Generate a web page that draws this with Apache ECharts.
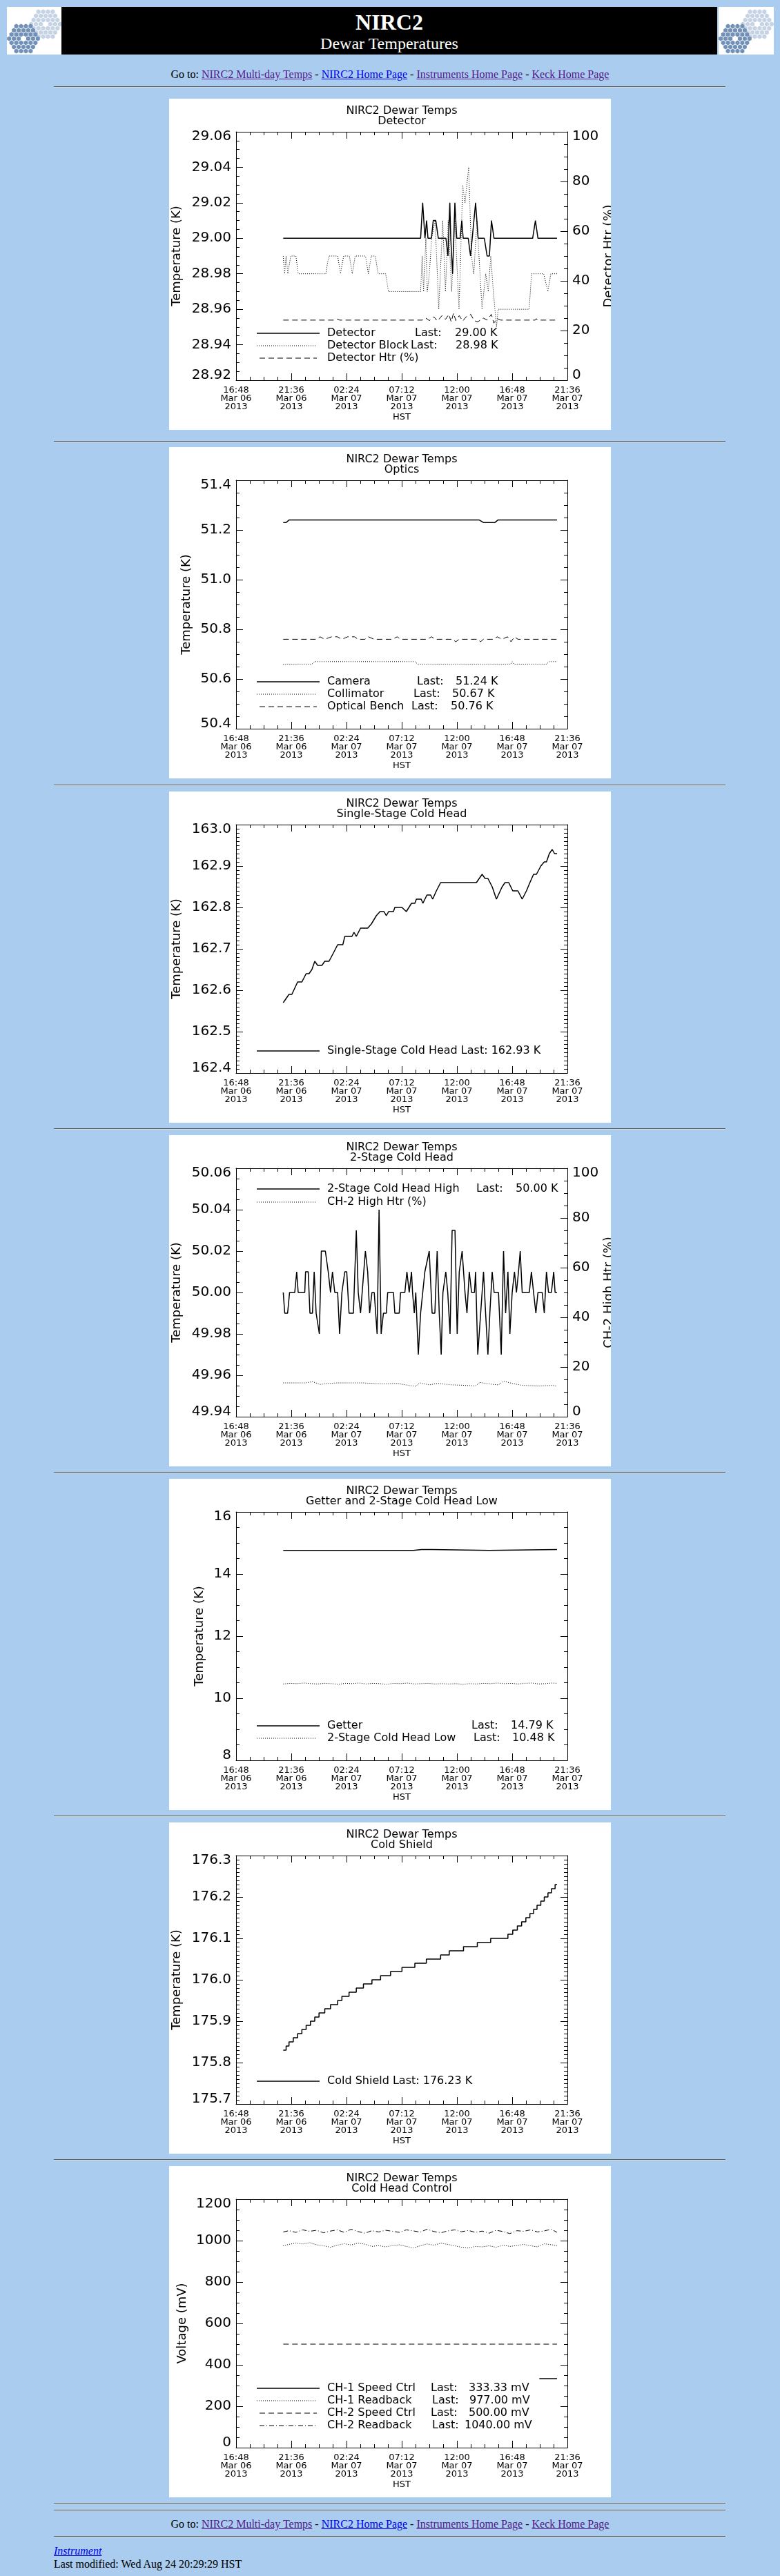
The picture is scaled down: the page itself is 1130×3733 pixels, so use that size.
<!DOCTYPE html>
<html>
<head>
<meta charset="utf-8">
<title>NIRC2 Dewar Temperatures</title>
<script src="https://cdn.jsdelivr.net/npm/echarts@6/dist/echarts.min.js"></script>
<style>
html,body{margin:0;padding:0}
body{background:#AACCEE;width:1130px;height:3733px;position:relative;overflow:hidden;font-family:"Liberation Serif","Times New Roman",serif;font-size:16px;color:#000}
.logo{position:absolute;top:10px;height:69px;background:#fff;overflow:hidden}
.banner{position:absolute;left:89px;top:10px;width:950px;height:69px;background:#000;color:#fff;text-align:center}
.t1{position:absolute;left:0;right:0;top:4px;font-weight:bold;font-size:32px;line-height:36px}
.t2{position:absolute;left:0;right:0;top:39px;font-size:24px;line-height:28px}
.nav{position:absolute;left:0;width:1130px;text-align:center;line-height:18px;white-space:nowrap}
.vis{color:#551A8B;text-decoration:underline}
.lnk{color:#0000EE;text-decoration:underline}
.rule{position:absolute;left:78px;width:973px;height:0;border-top:1px solid #5a5a5a;border-bottom:1px solid #d9d9d9}
.panel{position:absolute;left:245px;width:640px;height:480px;background:#fff}
.foot{position:absolute;left:78px;line-height:18px;white-space:nowrap}
</style>
</head>
<body>
<div class="logo" style="left:10px;width:79px"><svg id="logoL" width="79" height="69"></svg></div>
<div class="banner"><div class="t1">NIRC2</div><div class="t2">Dewar Temperatures</div></div>
<div class="logo" style="left:1041px;width:80px"><svg id="logoR" width="80" height="69"></svg></div>

<div class="nav" style="top:99px">Go to: <span class="vis">NIRC2 Multi-day Temps</span> - <span class="lnk">NIRC2 Home Page</span> - <span class="vis">Instruments Home Page</span> - <span class="vis">Keck Home Page</span></div>
<div class="rule" style="top:125px"></div>

<div class="panel" id="c1" style="top:143px"></div>
<div class="rule" style="top:639px"></div>
<div class="panel" id="c2" style="top:648px"></div>
<div class="rule" style="top:1137px"></div>
<div class="panel" id="c3" style="top:1147px"></div>
<div class="rule" style="top:1635px"></div>
<div class="panel" id="c4" style="top:1645px"></div>
<div class="rule" style="top:2133px"></div>
<div class="panel" id="c5" style="top:2143px"></div>
<div class="rule" style="top:2631px"></div>
<div class="panel" id="c6" style="top:2641px"></div>
<div class="rule" style="top:3129px"></div>
<div class="panel" id="c7" style="top:3139px"></div>
<div class="rule" style="top:3627px"></div>
<div class="rule" style="top:3637px"></div>
<div class="nav" style="top:3649px">Go to: <span class="vis">NIRC2 Multi-day Temps</span> - <span class="lnk">NIRC2 Home Page</span> - <span class="vis">Instruments Home Page</span> - <span class="vis">Keck Home Page</span></div>
<div class="rule" style="top:3675px"></div>
<div class="foot" style="top:3688px"><i><span class="lnk">Instrument</span></i></div>
<div class="foot" style="top:3707px">Last modified: Wed Aug 24 20:29:29 HST</div>

<script>
// ---------- Data (time in hours since 16:48 HST, Mar 06 2013) ----------
const xTickLabels = ['16:48\nMar 06\n2013','21:36\nMar 06\n2013','02:24\nMar 07\n2013','07:12\nMar 07\n2013','12:00\nMar 07\n2013','16:48\nMar 07\n2013','21:36\nMar 07\n2013'];

const detectorTemp = [[4.10,29.00],[16.04,29.00],[16.22,29.02],[16.42,29.00],[16.56,29.01],[16.68,29.00],[16.98,29.00],[17.14,29.01],[17.36,29.01],[17.58,29.00],[18.24,29.00],[18.42,28.99],[18.58,29.02],[18.66,29.00],[18.82,28.98],[19.02,29.02],[19.18,29.00],[19.48,29.00],[19.62,29.01],[19.74,29.00],[20.18,29.00],[20.38,28.99],[20.82,29.02],[21.04,29.00],[21.58,29.00],[21.82,28.99],[22.02,28.99],[22.20,29.01],[22.42,29.00],[25.78,29.00],[26.02,29.01],[26.24,29.00],[27.90,29.00]];
const detectorBlockTemp = [[4.10,28.99],[4.22,28.98],[4.35,28.99],[4.50,28.98],[4.75,28.99],[5.20,28.99],[5.40,28.98],[7.80,28.98],[8.05,28.99],[8.83,28.99],[9.08,28.98],[9.35,28.99],[9.85,28.99],[10.10,28.98],[10.35,28.99],[11.25,28.99],[11.50,28.98],[11.75,28.99],[12.10,28.99],[12.35,28.98],[13.00,28.98],[13.25,28.97],[16.04,28.97],[16.18,28.99],[16.30,28.97],[16.50,29.00],[16.62,28.97],[16.80,28.98],[17.00,29.00],[17.30,29.01],[17.62,28.96],[17.96,29.01],[18.20,28.97],[18.44,29.01],[18.74,28.97],[19.02,29.01],[19.38,28.96],[19.70,29.03],[19.90,29.02],[20.22,29.04],[20.46,28.99],[20.66,28.98],[20.94,29.01],[21.38,28.96],[21.70,28.98],[21.92,28.97],[22.14,28.99],[22.36,28.97],[22.64,28.95],[22.78,28.96],[25.48,28.96],[25.68,28.98],[26.74,28.98],[27.10,28.97],[27.36,28.98],[27.90,28.98]];
const detectorHtr = [[4.10,24.2],[8.60,24.2],[8.80,24.6],[9.00,24.2],[16.20,24.2],[16.50,25.0],[16.80,24.0],[17.20,25.5],[17.50,23.8],[17.90,26.0],[18.20,24.5],[18.50,26.5],[18.70,23.5],[18.90,27.0],[19.10,24.0],[19.40,26.0],[19.70,23.8],[20.00,25.5],[20.40,26.5],[20.70,24.0],[21.00,23.5],[21.50,25.0],[21.80,24.2],[22.20,26.5],[22.40,23.0],[22.70,24.8],[23.00,24.2],[26.00,24.2],[26.10,24.8],[26.20,24.2],[27.90,24.2]];

const cameraTemp = [[4.10,51.23],[4.35,51.23],[4.60,51.24],[21.14,51.24],[21.50,51.23],[22.50,51.23],[22.76,51.24],[27.90,51.24]];
const collimatorTemp = [[4.10,50.66],[6.59,50.66],[6.84,50.67],[15.54,50.67],[15.79,50.66],[23.87,50.66],[24.00,50.67],[24.15,50.66],[26.98,50.66],[27.23,50.67],[27.90,50.67]];
const opticalBenchTemp = [[4.10,50.76],[7.00,50.76],[7.30,50.77],[7.70,50.76],[8.30,50.77],[8.80,50.77],[9.20,50.76],[9.70,50.77],[10.30,50.77],[10.60,50.76],[11.20,50.76],[11.50,50.77],[12.00,50.76],[13.60,50.76],[14.00,50.77],[14.30,50.76],[16.60,50.76],[17.00,50.77],[17.30,50.76],[18.80,50.76],[19.10,50.75],[19.40,50.76],[21.00,50.76],[21.25,50.75],[21.50,50.76],[22.40,50.76],[22.70,50.77],[23.10,50.76],[23.60,50.77],[23.90,50.75],[24.20,50.77],[24.50,50.76],[27.90,50.76]];

const singleStageTemp = [[4.10,162.57],[4.60,162.59],[4.85,162.59],[5.35,162.62],[5.72,162.62],[6.09,162.64],[6.34,162.64],[6.59,162.65],[6.84,162.67],[7.09,162.66],[7.46,162.66],[7.71,162.67],[8.08,162.67],[8.46,162.69],[8.83,162.71],[9.28,162.71],[9.45,162.73],[10.07,162.73],[10.25,162.74],[10.45,162.73],[10.82,162.75],[11.44,162.75],[11.76,162.76],[12.19,162.78],[12.51,162.79],[12.86,162.79],[13.06,162.78],[13.26,162.79],[13.68,162.79],[13.80,162.80],[14.42,162.80],[14.80,162.79],[15.25,162.81],[15.54,162.81],[15.67,162.82],[16.09,162.82],[16.24,162.81],[16.59,162.83],[16.91,162.83],[17.09,162.82],[17.41,162.84],[17.78,162.86],[20.89,162.86],[21.14,162.87],[21.39,162.88],[21.64,162.87],[21.89,162.87],[22.26,162.85],[22.63,162.82],[23.13,162.85],[23.38,162.86],[23.70,162.86],[24.05,162.84],[24.50,162.84],[24.87,162.82],[25.24,162.84],[25.54,162.86],[25.86,162.88],[26.11,162.88],[26.49,162.90],[26.79,162.91],[26.98,162.91],[27.23,162.93],[27.48,162.94],[27.68,162.93],[27.90,162.93]];

const twoStageHighTemp = [[4.10,50.00],[4.23,49.99],[4.48,49.99],[4.65,50.00],[5.10,50.00],[5.27,50.01],[5.40,50.00],[5.97,50.00],[6.04,50.01],[6.27,50.01],[6.42,49.99],[6.64,49.99],[6.79,50.01],[6.96,49.99],[7.24,49.98],[7.41,50.02],[7.76,50.02],[8.01,50.01],[8.21,50.00],[8.38,50.01],[8.58,50.00],[8.83,50.00],[9.00,49.98],[9.20,50.00],[9.45,50.01],[9.62,50.01],[9.82,49.99],[10.20,49.99],[10.45,50.03],[10.62,50.00],[10.82,49.99],[11.24,50.02],[11.44,50.01],[11.61,49.99],[11.81,50.00],[12.01,50.00],[12.26,49.98],[12.43,50.04],[12.61,49.98],[12.81,49.99],[13.06,49.99],[13.18,50.00],[13.68,50.00],[13.80,49.99],[14.18,49.99],[14.30,50.00],[14.67,50.00],[14.85,50.01],[15.05,50.00],[15.25,50.01],[15.34,50.00],[15.49,49.99],[15.62,50.00],[15.84,49.97],[16.04,49.99],[16.41,50.01],[16.79,50.02],[17.04,49.99],[17.28,49.99],[17.48,50.02],[17.66,49.99],[17.83,49.97],[17.98,50.00],[18.23,50.01],[18.40,50.00],[18.60,49.98],[18.78,50.03],[19.03,50.03],[19.22,49.98],[19.40,50.01],[19.65,50.02],[19.90,50.00],[20.07,49.99],[20.27,50.01],[20.47,50.00],[20.72,50.00],[20.82,50.01],[21.01,49.97],[21.26,49.99],[21.51,50.01],[21.69,49.99],[21.89,49.97],[22.06,49.99],[22.26,50.01],[22.43,50.00],[22.81,50.00],[23.05,49.97],[23.25,50.02],[23.43,49.99],[23.63,50.01],[23.80,49.98],[24.00,50.00],[24.20,50.01],[24.37,50.00],[24.55,50.01],[24.70,50.02],[24.87,50.00],[25.49,50.00],[25.67,50.01],[25.86,50.00],[26.06,49.99],[26.24,50.00],[26.61,50.00],[26.79,49.99],[26.98,50.01],[27.16,50.00],[27.41,50.00],[27.61,50.01],[27.73,50.00],[27.90,50.00]];
const ch2HighHtr = [[4.10,13.6],[6.00,13.6],[6.64,14.1],[7.30,13.0],[7.80,13.3],[8.80,13.6],[11.00,13.6],[12.80,13.2],[14.00,13.4],[15.30,12.4],[15.60,12.3],[16.00,13.6],[16.80,12.8],[17.50,13.4],[18.80,12.8],[20.00,12.6],[20.80,12.4],[21.20,13.8],[22.30,13.0],[22.80,12.8],[23.25,14.3],[24.00,13.4],[24.90,12.6],[26.30,12.4],[27.50,12.6],[27.80,12.4]];

const getterTemp = [[4.10,14.76],[15.42,14.76],[15.54,14.79],[16.12,14.79],[16.22,14.77],[16.30,14.79],[17.04,14.79],[17.16,14.76],[22.01,14.76],[22.10,14.79],[27.90,14.79]];
const twoStageLowTemp = [[4.1,10.46],[4.7,10.48],[5.3,10.47],[5.9,10.49],[6.5,10.47],[7.1,10.46],[7.7,10.48],[8.3,10.47],[8.9,10.45],[9.5,10.48],[10.1,10.47],[10.7,10.49],[11.3,10.46],[11.9,10.48],[12.5,10.47],[13.1,10.45],[13.7,10.48],[14.3,10.47],[14.9,10.49],[15.5,10.46],[16.1,10.47],[16.7,10.48],[17.3,10.46],[17.9,10.47],[18.5,10.46],[19.1,10.47],[19.7,10.45],[20.3,10.47],[20.9,10.46],[21.5,10.48],[22.1,10.47],[22.7,10.49],[23.3,10.47],[23.9,10.48],[24.5,10.46],[25.1,10.48],[25.7,10.49],[26.3,10.46],[26.9,10.47],[27.5,10.49],[27.9,10.48]];

const coldShieldTemp = [[4.10,175.83],[4.35,175.84],[4.60,175.85],[4.97,175.86],[5.35,175.87],[5.72,175.88],[6.09,175.89],[6.47,175.90],[6.84,175.91],[7.21,175.92],[7.71,175.93],[8.21,175.94],[8.83,175.95],[9.20,175.96],[9.82,175.97],[10.45,175.98],[11.07,175.99],[11.81,176.00],[12.56,176.01],[13.43,176.02],[14.42,176.03],[15.54,176.04],[16.54,176.05],[17.78,176.06],[18.53,176.07],[19.77,176.08],[20.97,176.09],[22.13,176.10],[23.63,176.11],[24.05,176.12],[24.45,176.13],[24.82,176.14],[25.19,176.15],[25.54,176.16],[25.86,176.17],[26.16,176.18],[26.49,176.19],[26.79,176.20],[27.11,176.21],[27.41,176.22],[27.73,176.23],[27.90,176.23]];

const ch1SpeedCtrl = [[26.36,333.33],[27.90,333.33]];
const ch1Readback = [[4.1,975],[4.6,982],[5.2,988],[5.8,984],[6.4,990],[7.0,980],[7.6,975],[8.2,968],[8.8,978],[9.4,985],[10.0,979],[10.6,988],[11.2,983],[11.8,972],[12.4,976],[13.0,970],[13.6,976],[14.2,980],[14.8,972],[15.4,965],[16.0,975],[16.6,984],[17.2,978],[17.8,988],[18.4,982],[19.0,975],[19.6,968],[20.2,964],[20.8,972],[21.4,970],[22.0,975],[22.6,968],[23.2,978],[23.8,972],[24.4,976],[25.0,982],[25.6,975],[26.2,970],[26.8,985],[27.4,980],[27.9,977]];
const ch2SpeedCtrl = [[4.10,500],[27.90,500]];
const ch2Readback = [[4.1,1042],[4.6,1048],[5.2,1040],[5.8,1052],[6.4,1045],[7.0,1050],[7.6,1038],[8.2,1046],[8.8,1052],[9.4,1040],[10.0,1055],[10.6,1044],[11.2,1036],[11.8,1048],[12.4,1042],[13.0,1050],[13.6,1045],[14.2,1040],[14.8,1052],[15.4,1047],[16.0,1041],[16.6,1055],[17.2,1044],[17.8,1038],[18.4,1047],[19.0,1052],[19.6,1043],[20.2,1049],[20.8,1040],[21.4,1046],[22.0,1036],[22.6,1050],[23.2,1044],[23.8,1034],[24.4,1048],[25.0,1045],[25.6,1052],[26.2,1042],[26.8,1047],[27.4,1055],[27.9,1040]];

// ---------- Logos (decorative hex mosaics) ----------
function drawLogo(id){
  const svg=document.getElementById(id); const ns='http://www.w3.org/2000/svg';
  const s=4, w=Math.sqrt(3)*s;
  function mosaic(cx,cy,color){
    for(let q=-3;q<=3;q++)for(let r=-3;r<=3;r++){
      const k=-q-r; if(Math.max(Math.abs(q),Math.abs(r),Math.abs(k))>3) continue;
      if(q===0&&r===0) continue;
      const x=cx+w*(q+r/2), y=cy+1.5*s*r; let pts=[];
      for(let i=0;i<6;i++){const a=Math.PI/180*(60*i-30); pts.push((x+(s-0.5)*Math.cos(a)).toFixed(2)+','+(y+(s-0.5)*Math.sin(a)).toFixed(2));}
      const p=document.createElementNS(ns,'polygon'); p.setAttribute('points',pts.join(' ')); p.setAttribute('fill',color); svg.appendChild(p);
    }
  }
  mosaic(56,25,'#c5d3e4');
  mosaic(24,46,'#7291b8');
}
drawLogo('logoL'); drawLogo('logoR');

// ---------- Chart builder ----------
const F='"DejaVu Sans", Verdana, sans-serif';
const ST={solid:{width:1.5,type:'solid'},dotted:{width:1,type:[1,2]},dashed:{width:1,type:[8,5]},dashdot:{width:1,type:[7,3,1,3]}};
function near(a,b){return Math.abs(a-b)<1e-6*Math.max(1,Math.abs(b));}
const common={axisLine:{show:true,onZero:false,lineStyle:{color:'#000',width:1}},
  axisTick:{show:true,inside:true,length:10,lineStyle:{color:'#000',width:1}},
  splitLine:{show:false},minorSplitLine:{show:false}};
function xAxis(pos){
  return Object.assign({type:'value',position:pos,min:0,max:28.8,interval:4.8,
    minorTick:{show:true,splitNumber:4,length:5,lineStyle:{color:'#000',width:1}},
    axisLabel:pos==='bottom'?{show:true,showMinLabel:true,showMaxLabel:true,margin:9,color:'#000',fontFamily:F,fontSize:13,lineHeight:11.7,
      formatter:function(v){return xTickLabels[Math.round(v/4.8)]||'';}}:{show:false},
    name:pos==='bottom'?'HST':'',nameLocation:'middle',nameGap:47,nameMoveOverlap:false,
    nameTextStyle:{color:'#000',fontFamily:F,fontSize:13,lineHeight:13}},common);
}
function yAxis(a,pos,labels){
  return Object.assign({type:'value',position:pos,min:a.min,max:a.max,interval:a.interval,
    minorTick:{show:true,splitNumber:a.minor,length:5,lineStyle:{color:'#000',width:1}},
    axisLabel:{show:labels,showMinLabel:true,showMaxLabel:true,margin:7,color:'#000',fontFamily:F,fontSize:20,lineHeight:14,
      formatter:function(v){const s=v.toFixed(a.dec); if(near(v,a.max))return '\n'+s; if(near(v,a.min))return s+'\n'; return s;}},
    name:labels?a.name:'',nameLocation:'middle',nameGap:a.gap,nameRotate:90,nameMoveOverlap:false,
    nameTextStyle:{color:'#000',fontFamily:F,fontSize:18,lineHeight:20}},common);
}
function build(id,cfg){
  const chart=echarts.init(document.getElementById(id),null,{renderer:'canvas',width:640,height:480});
  const els=[
    {type:'text',silent:true,style:{text:'NIRC2 Dewar Temps',x:337,y:18,font:'16px '+F,fill:'#000',textAlign:'center',textVerticalAlign:'middle'}},
    {type:'text',silent:true,style:{text:cfg.sub,x:337,y:32.5,font:'16px '+F,fill:'#000',textAlign:'center',textVerticalAlign:'middle'}}
  ];
  cfg.legend.forEach(function(it){
    const st=ST[it.style];
    const x1=it.style==='dashed'||it.style==='dashdot'?131:127, x2=it.style==='solid'?218:214;
    els.push({type:'line',silent:true,shape:{x1:x1,y1:it.y,x2:x2,y2:it.y},style:{stroke:'#000',lineWidth:st.width,lineDash:it.style==='solid'?null:st.type}});
    it.texts.forEach(function(t){
      els.push({type:'text',silent:true,style:{text:t[1],x:t[0],y:it.y,font:'16px '+F,fill:'#000',textAlign:'left',textVerticalAlign:'middle'}});
    });
  });
  const series=cfg.series.map(function(s){
    const st=ST[s.style];
    return {type:'line',data:s.data,xAxisIndex:0,yAxisIndex:s.axis||0,showSymbol:false,symbol:'none',silent:true,animation:false,
      step:s.step||false,lineStyle:{color:'#000',width:st.width,type:st.type},clip:true};
  });
  chart.setOption({
    animation:false,backgroundColor:'#fff',
    grid:{left:97,right:63,top:48,bottom:72,containLabel:false,outerBoundsMode:'none'},
    xAxis:[xAxis('bottom'),xAxis('top')],
    yAxis:[yAxis(cfg.y,'left',true), cfg.y2?yAxis(cfg.y2,'right',true):yAxis(cfg.y,'right',false)],
    graphic:{elements:els},
    series:series
  });
}

build('c1',{sub:'Detector',
  y:{min:28.92,max:29.06,interval:0.02,minor:4,dec:2,name:'Temperature (K)',gap:76},
  y2:{min:0,max:100,interval:20,minor:4,dec:0,name:'Detector Htr (%)',gap:50},
  series:[{data:detectorTemp,style:'solid'},{data:detectorBlockTemp,style:'dotted'},{data:detectorHtr,style:'dashed',axis:1}],
  legend:[{y:340,style:'solid',texts:[[229,'Detector'],[356,'Last:'],[414,'29.00 K']]},
          {y:358,style:'dotted',texts:[[229,'Detector Block'],[350,'Last:'],[415,'28.98 K']]},
          {y:376,style:'dashed',texts:[[229,'Detector Htr (%)']]}]});

build('c2',{sub:'Optics',
  y:{min:50.4,max:51.4,interval:0.2,minor:4,dec:1,name:'Temperature (K)',gap:62},
  series:[{data:cameraTemp,style:'solid'},{data:collimatorTemp,style:'dotted'},{data:opticalBenchTemp,style:'dashed'}],
  legend:[{y:340,style:'solid',texts:[[229,'Camera'],[359,'Last:'],[415,'51.24 K']]},
          {y:358,style:'dotted',texts:[[229,'Collimator'],[354,'Last:'],[410,'50.67 K']]},
          {y:376,style:'dashed',texts:[[229,'Optical Bench'],[351,'Last:'],[408,'50.76 K']]}]});

build('c3',{sub:'Single-Stage Cold Head',
  y:{min:162.4,max:163.0,interval:0.1,minor:10,dec:1,name:'Temperature (K)',gap:76},
  series:[{data:singleStageTemp,style:'solid'}],
  legend:[{y:376,style:'solid',texts:[[229,'Single-Stage Cold Head Last: 162.93 K']]}]});

build('c4',{sub:'2-Stage Cold Head',
  y:{min:49.94,max:50.06,interval:0.02,minor:4,dec:2,name:'Temperature (K)',gap:76},
  y2:{min:0,max:100,interval:20,minor:4,dec:0,name:'CH-2 High Htr (%)',gap:50},
  series:[{data:twoStageHighTemp,style:'solid'},{data:ch2HighHtr,style:'dotted',axis:1}],
  legend:[{y:78,style:'solid',texts:[[229,'2-Stage Cold Head High'],[445,'Last:'],[502,'50.00 K']]},
          {y:97,style:'dotted',texts:[[229,'CH-2 High Htr (%)']]}]});

build('c5',{sub:'Getter and 2-Stage Cold Head Low',
  y:{min:8,max:16,interval:2,minor:4,dec:0,name:'Temperature (K)',gap:43},
  series:[{data:getterTemp,style:'solid'},{data:twoStageLowTemp,style:'dotted'}],
  legend:[{y:358,style:'solid',texts:[[229,'Getter'],[438,'Last:'],[495,'14.79 K']]},
          {y:376,style:'dotted',texts:[[229,'2-Stage Cold Head Low'],[441,'Last:'],[497,'10.48 K']]}]});

build('c6',{sub:'Cold Shield',
  y:{min:175.7,max:176.3,interval:0.1,minor:10,dec:1,name:'Temperature (K)',gap:76},
  series:[{data:coldShieldTemp,style:'solid',step:'end'}],
  legend:[{y:375,style:'solid',texts:[[229,'Cold Shield Last: 176.23 K']]}]});

build('c7',{sub:'Cold Head Control',
  y:{min:0,max:1200,interval:200,minor:4,dec:0,name:'Voltage (mV)',gap:68},
  series:[{data:ch1SpeedCtrl,style:'solid'},{data:ch1Readback,style:'dotted'},{data:ch2SpeedCtrl,style:'dashed'},{data:ch2Readback,style:'dashdot'}],
  legend:[{y:322,style:'solid',texts:[[229,'CH-1 Speed Ctrl'],[379,'Last:'],[434,'333.33 mV']]},
          {y:340,style:'dotted',texts:[[229,'CH-1 Readback'],[381,'Last:'],[435,'977.00 mV']]},
          {y:358,style:'dashed',texts:[[229,'CH-2 Speed Ctrl'],[379,'Last:'],[434,'500.00 mV']]},
          {y:376,style:'dashdot',texts:[[229,'CH-2 Readback'],[381,'Last:'],[428,'1040.00 mV']]}]});
</script>
</body>
</html>
